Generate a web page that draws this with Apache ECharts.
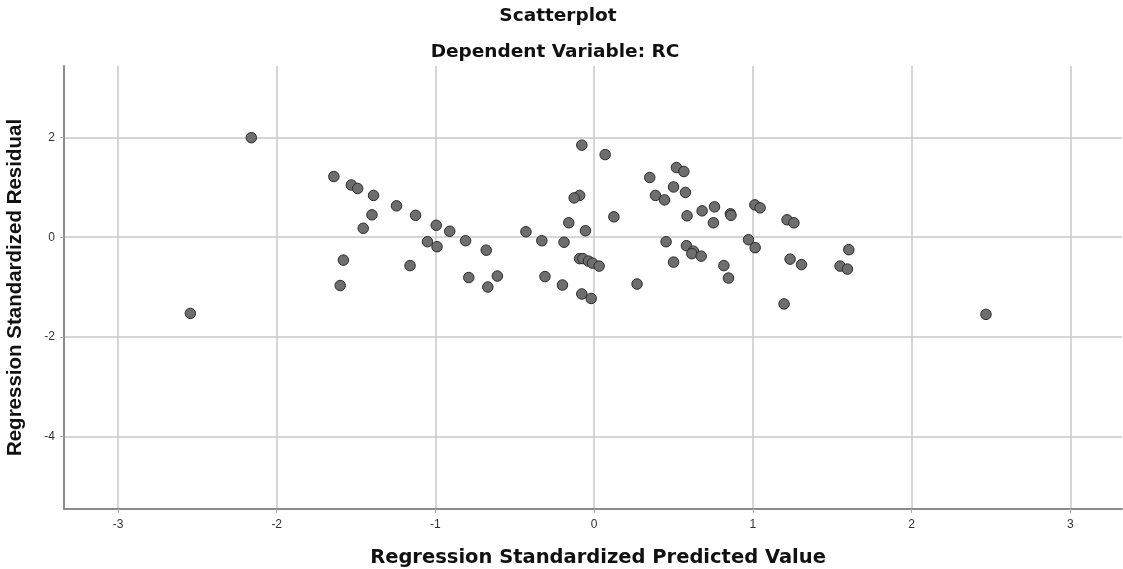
<!DOCTYPE html>
<html>
<head>
<meta charset="utf-8">
<script src="https://cdn.jsdelivr.net/npm/echarts@6/dist/echarts.min.js"></script>
<style>html,body{margin:0;padding:0;background:#fff;}#c{width:1123px;height:569px;}</style>
</head>
<body>
<div id="c"></div>
<script>
var titleText = "Scatterplot";
var subtitleText = "Dependent Variable: RC";
var xName = "Regression Standardized Predicted Value";
var yName = "Regression Standardized Residual";
var xTicks = [-3, -2, -1, 0, 1, 2, 3];
var yTicks = [-4, -2, 0, 2];
var predicted = [-2.16, -2.544, -1.64, -1.53, -1.49, -1.39, -1.245, -1.125, -1.40, -1.455,
  -0.995, -1.05, -0.99, -1.58, -1.16, -1.60, -0.078, 0.069, 0.518, 0.565,
  0.35, 0.50, 0.575, 0.386, 0.443, -0.092, -0.126, 0.758, 0.68, 0.585,
  0.751, 0.858, 0.862, 1.012, 1.045, 1.215, 1.258, 0.124, -0.16, -0.055,
  -0.43, -0.91, -0.81, -0.68, -0.33, -0.19, 0.453, 0.972, 1.014, 0.581,
  0.625, 0.615, 0.674, -0.092, -0.071, -0.036, -0.011, 0.031, 0.50, 0.817,
  1.234, 1.306, -0.79, -0.61, -0.67, -0.31, -0.20, 0.27, 0.846, -0.078,
  -0.019, 1.196, 1.604, 1.549, 1.595, 2.468];
var residual = [2.0, -1.53, 1.22, 1.05, 0.98, 0.84, 0.63, 0.44, 0.45, 0.18,
  0.24, -0.09, -0.19, -0.46, -0.57, -0.97, 1.85, 1.66, 1.40, 1.32,
  1.20, 1.01, 0.90, 0.84, 0.75, 0.84, 0.79, 0.61, 0.53, 0.43,
  0.29, 0.47, 0.44, 0.65, 0.59, 0.35, 0.29, 0.41, 0.29, 0.13,
  0.11, 0.12, -0.07, -0.26, -0.07, -0.10, -0.09, -0.05, -0.21, -0.17,
  -0.28, -0.33, -0.38, -0.43, -0.43, -0.48, -0.52, -0.58, -0.50, -0.57,
  -0.44, -0.55, -0.81, -0.78, -1.0, -0.79, -0.96, -0.94, -0.82, -1.14,
  -1.23, -1.34, -0.25, -0.58, -0.64, -1.55];

var pts = predicted.map(function (x, i) { return [x, residual[i]]; });
var font = "'Liberation Sans', Arial, sans-serif";
var wide = "'DejaVu Sans', 'Liberation Sans', sans-serif";
var chart = echarts.init(document.getElementById('c'));
chart.setOption({
  animation: false,
  backgroundColor: '#fff',
  title: [
    { text: titleText, left: 558, top: 7, padding: 0, textAlign: 'center',
      textStyle: { fontFamily: wide, fontSize: 18.5, fontWeight: 'bold', color: '#111' } },
    { text: subtitleText, left: 555, top: 43, padding: 0, textAlign: 'center',
      textStyle: { fontFamily: wide, fontSize: 18.5, fontWeight: 'bold', color: '#111' } }
  ],
  grid: { left: 64, right: 1, top: 66, bottom: 60, containLabel: false, outerBoundsMode: 'none' },
  xAxis: {
    type: 'value', min: -3.34, max: 3.325,
    name: xName, nameLocation: 'middle', nameGap: 39,
    nameTextStyle: { fontFamily: wide, fontSize: 19.5, fontWeight: 'bold', color: '#111', padding: [0, 0, 0, 10] },
    axisLine: { show: true, onZero: false, lineStyle: { color: '#8c8c8c', width: 2 } },
    axisTick: { show: true, length: 4, customValues: xTicks, lineStyle: { color: '#aaa' } },
    axisLabel: { customValues: xTicks, margin: 10, fontFamily: font, fontSize: 12, color: '#333' },
    splitLine: { show: true, lineStyle: { color: '#c8c8c8', width: 1.5 } }
  },
  yAxis: {
    type: 'value', min: -5.46, max: 3.44,
    name: yName, nameLocation: 'middle', nameGap: 38,
    nameTextStyle: { fontFamily: font, fontSize: 20.5, fontWeight: 'bold', color: '#111' },
    axisLine: { show: true, onZero: false, lineStyle: { color: '#8c8c8c', width: 2 } },
    axisTick: { show: true, length: 4, customValues: yTicks, lineStyle: { color: '#aaa' } },
    axisLabel: { customValues: yTicks, margin: 9, fontFamily: font, fontSize: 12, color: '#333' },
    splitLine: { show: true, lineStyle: { color: '#c8c8c8', width: 1.5 } }
  },
  series: [{
    type: 'scatter',
    data: pts,
    symbolSize: 10.5,
    itemStyle: { color: '#6e6e6e', borderColor: '#2b2b2b', borderWidth: 1, opacity: 1 }
  }]
});
</script>
</body>
</html>
